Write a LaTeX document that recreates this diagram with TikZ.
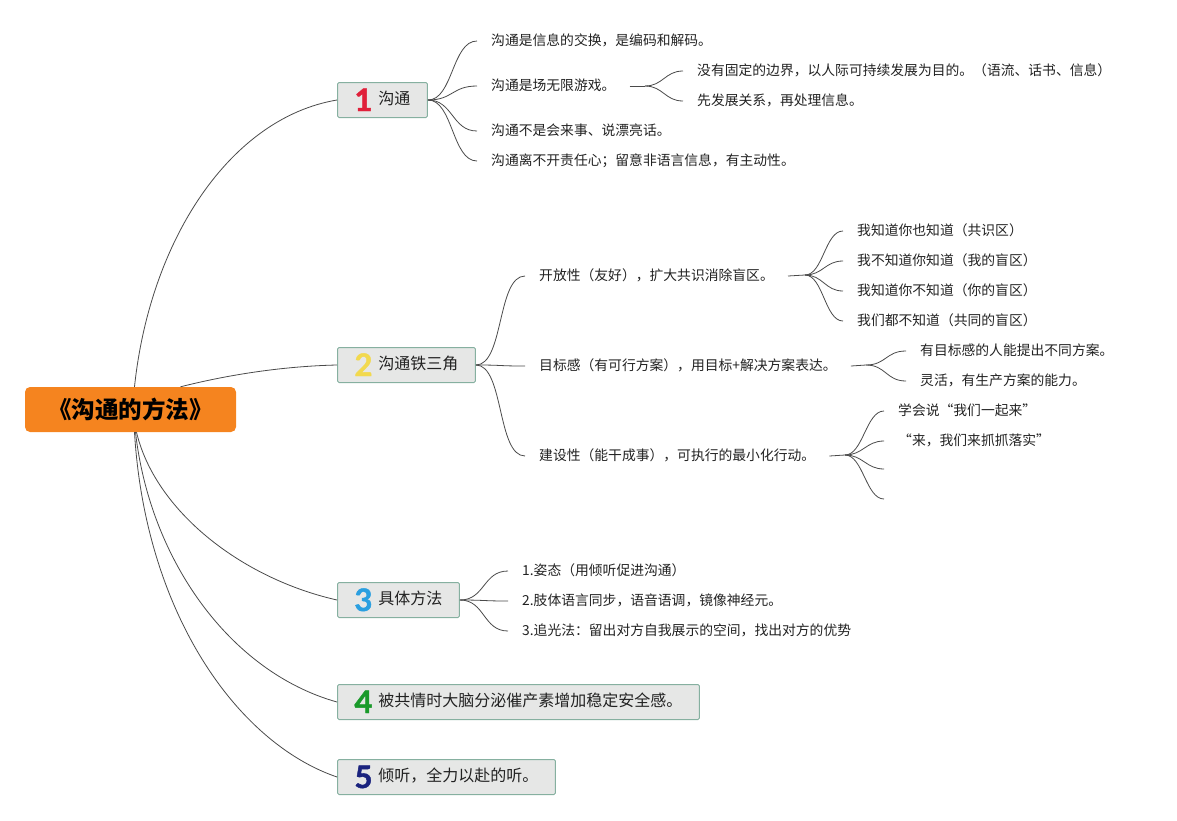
\documentclass[tikz,border=0pt]{standalone}
\usepackage{fontspec}
\setmainfont{Noto Sans CJK SC}
\newfontfamily\numfont{Lato}[FakeBold=1.5]
\definecolor{rootorange}{HTML}{F5841F}
\definecolor{boxfill}{HTML}{E6E7E6}
\definecolor{boxline}{HTML}{86B0A0}
\definecolor{txt}{HTML}{222222}
\definecolor{lnk}{HTML}{4A4A4A}
\definecolor{nred}{HTML}{E0203A}
\definecolor{nyellow}{HTML}{F2D94E}
\definecolor{nblue}{HTML}{2A9FE0}
\definecolor{ngreen}{HTML}{1A9A2A}
\definecolor{nnavy}{HTML}{1A237E}
\newcommand{\mknum}[2]{\raisebox{-6.5pt}[0pt][0pt]{\fontsize{31}{31}\selectfont\numfont\bfseries\textcolor{#1}{#2}}\hspace{6pt}}
\begin{document}
\begin{tikzpicture}[x=1pt,y=-1pt,
  rootbox/.style={draw=none,fill=rootorange,rounded corners=5pt,minimum width=211pt,minimum height=45pt,
    font=\fontsize{23.5}{26}\selectfont\bfseries,text=black,inner sep=0pt},
  topic/.style={draw=boxline,line width=1pt,fill=boxfill,rounded corners=1.5pt,anchor=west,minimum height=35pt,
    inner xsep=17pt,inner ysep=0pt,font=\fontsize{16}{18}\selectfont,text=txt,text height=11pt,text depth=2pt},
  leaf/.style={anchor=west,inner xsep=14pt,inner ysep=2pt,font=\fontsize{13.8}{16}\selectfont,text=txt,
    text height=10.5pt,text depth=2.5pt},
  mainln/.style={draw=lnk,line width=0.8pt},
  brln/.style={draw=lnk,line width=0.8pt},
]
\useasboundingbox (0,0) rectangle (1177,820);

% root
\node[rootbox] (root) at (130.5,409.5) {《沟通的方法》};

% topics
\node[topic] (b1) at (337,100) {\mknum{nred}{1}沟通};
\node[topic] (b2) at (337,365) {\mknum{nyellow}{2}沟通铁三角};
\node[topic] (b3) at (337,600) {\mknum{nblue}{3}具体方法};
\node[topic] (b4) at (337,702) {\mknum{ngreen}{4}被共情时大脑分泌催产素增加稳定安全感。};
\node[topic] (b5) at (337,777) {\mknum{nnavy}{5}倾听，全力以赴的听。};

% root connectors
\draw[mainln] ([xshift=4pt]root.north) .. controls (150,240) and (230,118) .. (b1.west);
\draw[mainln] ([xshift=50pt]root.north) .. controls (235,373) and (290,366) .. (b2.west);
\draw[mainln] ([xshift=6pt]root.south) .. controls (155,510) and (240,578) .. (b3.west);
\draw[mainln] ([xshift=5pt]root.south) .. controls (150,560) and (230,672) .. (b4.west);
\draw[mainln] ([xshift=4pt]root.south) .. controls (145,610) and (235,742) .. (b5.west);

% branch 1
\node[leaf] (c11) at (477,41) {沟通是信息的交换，是编码和解码。};
\node[leaf] (c12) at (477,86) {沟通是场无限游戏。};
\node[leaf] (c13) at (477,131) {沟通不是会来事、说漂亮话。};
\node[leaf] (c14) at (477,161) {沟通离不开责任心；留意非语言信息，有主动性。};
\foreach \c in {c11,c12,c13,c14}
  \draw[brln] (b1.east) .. controls +(25,0) and +(-25,0) .. (\c.west);

\coordinate (f12) at (645,86);
\node[leaf] (d121) at (683,71) {没有固定的边界，以人际可持续发展为目的。（语流、话书、信息）};
\node[leaf] (d122) at (683,101) {先发展关系，再处理信息。};
\draw[brln] (c12.east) -- (f12);
\foreach \c in {d121,d122}
  \draw[brln] (f12) .. controls +(18,0) and +(-18,0) .. (\c.west);

% branch 2
\node[leaf] (c21) at (525,276) {开放性（友好），扩大共识消除盲区。};
\node[leaf] (c22) at (525,366) {目标感（有可行方案），用目标+解决方案表达。};
\node[leaf] (c23) at (525,456) {建设性（能干成事），可执行的最小化行动。};
\foreach \c in {c21,c22,c23}
  \draw[brln] (b2.east) .. controls +(28,0) and +(-28,0) .. (\c.west);

\coordinate (f21) at (805,275);
\node[leaf] (d211) at (843,231) {我知道你也知道（共识区）};
\node[leaf] (d212) at (843,261) {我不知道你知道（我的盲区）};
\node[leaf] (d213) at (843,291) {我知道你不知道（你的盲区）};
\node[leaf] (d214) at (843,321) {我们都不知道（共同的盲区）};
\draw[brln] (c21.east) -- (f21);
\foreach \c in {d211,d212,d213,d214}
  \draw[brln] (f21) .. controls +(18,0) and +(-18,0) .. (\c.west);

\coordinate (f22) at (866,365);
\node[leaf] (d221) at (906,351) {有目标感的人能提出不同方案。};
\node[leaf] (d222) at (906,381) {灵活，有生产方案的能力。};
\draw[brln] (c22.east) -- (f22);
\foreach \c in {d221,d222}
  \draw[brln] (f22) .. controls +(20,0) and +(-20,0) .. (\c.west);

\coordinate (f23) at (845,455);
\node[leaf] (d231) at (884,411) {学会说“我们一起来”};
\node[leaf] (d232) at (884,441) {“来，我们来抓抓落实”};
\coordinate (e233) at (884,469);
\coordinate (e234) at (884,499);
\draw[brln] (c23.east) -- (f23);
\foreach \c in {d231.west,d232.west,e233,e234}
  \draw[brln] (f23) .. controls +(18,0) and +(-18,0) .. (\c);

% branch 3
\node[leaf] (c31) at (508,571) {1.姿态（用倾听促进沟通）};
\node[leaf] (c32) at (508,601) {2.肢体语言同步，语音语调，镜像神经元。};
\node[leaf] (c33) at (508,631) {3.追光法：留出对方自我展示的空间，找出对方的优势};
\foreach \c in {c31,c32,c33}
  \draw[brln] (b3.east) .. controls +(25,0) and +(-25,0) .. (\c.west);
\end{tikzpicture}
\end{document}
